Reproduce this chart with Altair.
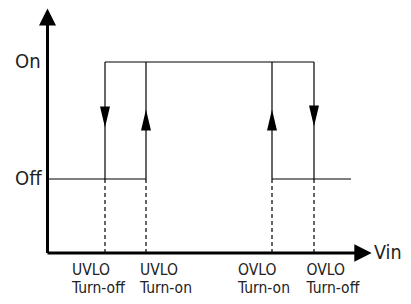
import altair as alt
import pandas as pd

# Vin thresholds (arbitrary units, origin at the axes corner)
threshold_names = ["UVLO Turn-off", "UVLO Turn-on", "OVLO Turn-on", "OVLO Turn-off"]
thresholds = [57.5, 98.5, 224.5, 266.5]
label_line1 = ["UVLO", "UVLO", "OVLO", "OVLO"]
label_line2 = ["Turn-off", "Turn-on", "Turn-on", "Turn-off"]
label_x = [24.5, 92.5, 190.5, 259.0]

# state levels
state_names = ["On", "Off"]
state_levels = [191, 74]
off_end = 303.5

# transition arrows on the vertical edges
arrow_dir = ["down", "up", "up", "down"]
arrow_y = [136, 133, 133, 137]

# axis extents
x_axis_end = 307.5
x_arrow = 315.5
y_axis_end = 228
y_arrow = 236

XD = [-39.5, 355.5]
YD = [-43, 245]
xs = alt.Scale(domain=XD, nice=False, zero=False)
ys = alt.Scale(domain=YD, nice=False, zero=False)

on_lvl, off_lvl = state_levels

# solid signal segments
seg = pd.DataFrame({
    "x": [thresholds[0], thresholds[0], thresholds[1], thresholds[2], thresholds[3], 0, thresholds[2]],
    "x2": [thresholds[3], thresholds[0], thresholds[1], thresholds[2], thresholds[3], thresholds[1], off_end],
    "y": [on_lvl, off_lvl, off_lvl, off_lvl, off_lvl, off_lvl, off_lvl],
    "y2": [on_lvl, on_lvl, on_lvl, on_lvl, on_lvl, off_lvl, off_lvl],
})
dash = pd.DataFrame({"x": thresholds, "y": [0] * 4, "y2": [off_lvl] * 4})
axes = pd.DataFrame({"x": [0, 0], "x2": [x_axis_end, 0], "y": [0, 0], "y2": [0, y_axis_end]})

DOWN = "M-0.476,-1L0.476,-1L0,1Z"
UP = "M-0.476,1L0.476,1L0,-1Z"
arrows = pd.DataFrame({"x": thresholds, "y": arrow_y, "dir": arrow_dir})

RIGHT = "M-1,-1L1,0L-1,1Z"
UPBIG = "M-1,1L1,1L0,-1Z"

labels = pd.DataFrame({"x": label_x, "l1": label_line1, "l2": label_line2})
states = pd.DataFrame({"name": state_names, "y": state_levels})

FONT = "DejaVu Sans Condensed"

def X(f="x"):
    return alt.X(f"{f}:Q", scale=xs, axis=None)

def Y(f="y"):
    return alt.Y(f"{f}:Q", scale=ys, axis=None)

solid = alt.Chart(seg).mark_rule(color="black", strokeWidth=1.2).encode(
    x=X(), x2="x2:Q", y=Y(), y2="y2:Q")
dashed = alt.Chart(dash).mark_rule(color="black", strokeWidth=1.2, strokeDash=[4, 3]).encode(
    x=X(), y=Y(), y2="y2:Q")
axis_lines = alt.Chart(axes).mark_rule(color="black", strokeWidth=3).encode(
    x=X(), x2="x2:Q", y=Y(), y2="y2:Q")

down_arrows = alt.Chart(arrows).transform_filter("datum.dir == 'down'").mark_point(
    shape=DOWN, size=441, filled=True, color="black", opacity=1, strokeWidth=0).encode(x=X(), y=Y())
up_arrows = alt.Chart(arrows).transform_filter("datum.dir == 'up'").mark_point(
    shape=UP, size=441, filled=True, color="black", opacity=1, strokeWidth=0).encode(x=X(), y=Y())

xhead = alt.Chart(pd.DataFrame({"x": [x_arrow], "y": [0]})).mark_point(
    shape=RIGHT, size=300, filled=True, color="black", opacity=1, strokeWidth=0).encode(x=X(), y=Y())
yhead = alt.Chart(pd.DataFrame({"x": [0], "y": [y_arrow]})).mark_point(
    shape=UPBIG, size=289, filled=True, color="black", opacity=1, strokeWidth=0).encode(x=X(), y=Y())

lab1 = alt.Chart(labels).mark_text(align="left", baseline="alphabetic", font=FONT, fontSize=15.5,
                                   color="#222").encode(x=X(), y=alt.value(267), text="l1:N")
lab2 = alt.Chart(labels).mark_text(align="left", baseline="alphabetic", font=FONT, fontSize=15.5,
                                   color="#222").encode(x=X(), y=alt.value(285), text="l2:N")
state_text = alt.Chart(states).mark_text(align="left", baseline="middle", font=FONT, fontSize=20,
                                         color="#222", x=7).encode(y=Y(), text="name:N")
vin = alt.Chart(pd.DataFrame({"x": [326.5], "y": [0], "t": ["Vin"]})).mark_text(
    align="left", baseline="middle", font=FONT, fontSize=19.5, color="#222").encode(x=X(), y=Y(), text="t:N")

chart = alt.layer(
    dashed, solid, axis_lines, down_arrows, up_arrows, xhead, yhead, lab1, lab2, state_text, vin
).properties(
    width=395, height=288, autosize=alt.AutoSizeParams(type="none"), padding=0
).configure_view(stroke=None)

chart.save("out.html", embed_options={"renderer": "svg", "actions": False})
